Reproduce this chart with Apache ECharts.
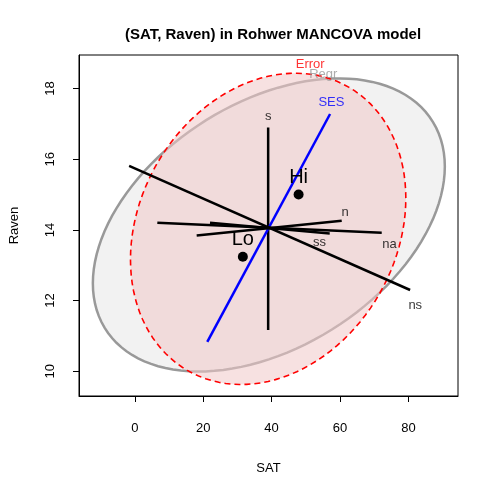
<!DOCTYPE html>
<html><head><meta charset="utf-8">
<script src="https://cdn.jsdelivr.net/npm/echarts@6/dist/echarts.min.js"></script>
<style>html,body{margin:0;background:#fff}#c{width:480px;height:480px}</style>
</head><body><div id="c"></div>
<script>
// ellipses: [cx, cy, sxx, syy, sxy]
const errEllipse = [39, 14.03, 1620, 19.4, 35];
const regEllipse = [39.2, 14.14, 2647, 17.2, 85];
// vectors: start, end, label position
const vecNames = ['s', 'SES', 'ns', 'na', 'n', 'ss'];
const vecStart = [[39, 11.17], [21.2, 10.83], [-1.65, 15.81], [6.6, 14.2], [18.1, 13.84], [22, 14.2]];
const vecEnd = [[39, 16.9], [57.1, 17.28], [80.5, 12.3], [72.2, 13.92], [60.5, 14.26], [57, 13.9]];
const vecLabel = [[39, 17.2], [57.5, 17.6], [82, 11.85], [74.5, 13.6], [61.5, 14.5], [54, 13.65]];
const groupNames = ['Hi', 'Lo'];
const groupMeans = [[47.9, 15.0], [31.6, 13.24]];
const xTicks = [0, 20, 40, 60, 80];
const yTicks = [10, 12, 14, 16, 18];

function ellipsePts(e) {
  const [cx, cy, a, d, b] = e;
  const l11 = Math.sqrt(a), l21 = b / l11, l22 = Math.sqrt(d - l21 * l21);
  const pts = [];
  for (let i = 0; i <= 120; i++) {
    const t = i / 120 * 2 * Math.PI, u = Math.cos(t), v = Math.sin(t);
    pts.push([cx + l11 * u, cy + l21 * u + l22 * v]);
  }
  return pts;
}
function ellSeries(e, fill, stroke, dash, w) {
  const pts = ellipsePts(e);
  return {
    type: 'custom', data: [[e[0], e[1]]], z: 1, silent: true,
    renderItem: (p, api) => ({
      type: 'polygon',
      shape: { points: pts.map(q => api.coord(q)) },
      style: { fill: fill, stroke: stroke, lineWidth: w, lineDash: dash }
    })
  };
}
const font = 'Liberation Sans';
const series = [
  ellSeries(regEllipse, '#f2f2f2', '#999999', null, 2.5),
  ellSeries(errEllipse, 'rgba(240,200,200,0.55)', null, null, 0),
  ellSeries(errEllipse, 'none', '#ff0000', [6, 4], 1.6)
];
vecNames.forEach((n, i) => {
  series.push({
    type: 'line', data: [vecStart[i], vecEnd[i]], symbol: 'none', z: 3,
    lineStyle: { color: n === 'SES' ? '#0000ff' : '#000', width: 2.5 }
  });
});
series.push({
  type: 'scatter', symbolSize: 0, z: 4,
  data: vecNames.map((n, i) => ({ value: vecLabel[i], name: n,
    label: { color: n === 'SES' ? '#0000ff' : '#000' } })),
  label: { show: true, position: 'inside', formatter: p => p.name, fontSize: 13, fontFamily: font }
});
series.push({
  type: 'scatter', symbolSize: 10, itemStyle: { color: '#000', opacity: 1 }, z: 5,
  data: groupMeans.map((v, i) => ({ value: v, name: groupNames[i] })),
  label: { show: true, position: 'top', distance: 2, formatter: p => p.name,
    fontSize: 20, color: '#000', fontFamily: font }
});
series.push({
  type: 'scatter', symbolSize: 0, z: 5,
  data: [
    { value: [51.3, 18.68], name: 'Error', label: { color: '#ff0000' } },
    { value: [55.1, 18.4], name: 'Regr', label: { color: '#999999' } }
  ],
  label: { show: true, position: 'inside', formatter: p => p.name, fontSize: 13, fontFamily: font }
});

const axisCommon = {
  splitLine: { show: false },
  axisLine: { show: true, onZero: false, lineStyle: { color: '#000' } },
  nameTextStyle: { fontSize: 13, color: '#000', fontFamily: font }
};
const chart = echarts.init(document.getElementById('c'));
chart.setOption({
  animation: false,
  title: { text: '(SAT, Raven) in Rohwer MANCOVA model', left: 268, top: 22, textAlign: 'center',
    textStyle: { fontSize: 15, fontWeight: 'bold', color: '#000', fontFamily: font } },
  grid: { left: 78, right: 22, top: 55, bottom: 80, show: true, borderColor: '#000', borderWidth: 1 },
  xAxis: Object.assign({
    type: 'value', min: -16.3, max: 94.5, name: 'SAT', nameLocation: 'middle', nameGap: 66,
    axisTick: { show: true, inside: false, length: 6, customValues: xTicks, lineStyle: { color: '#000' } },
    axisLabel: { customValues: xTicks, margin: 26, fontSize: 13, color: '#000', fontFamily: font }
  }, axisCommon),
  yAxis: Object.assign({
    type: 'value', min: 9.3, max: 18.95, name: 'Raven', nameLocation: 'middle', nameGap: 58,
    axisTick: { show: true, inside: false, length: 6, customValues: yTicks, lineStyle: { color: '#000' } },
    axisLabel: { customValues: yTicks, rotate: 90, margin: 22, fontSize: 13, color: '#000',
      fontFamily: font }
  }, axisCommon),
  series: series
});
</script></body></html>
